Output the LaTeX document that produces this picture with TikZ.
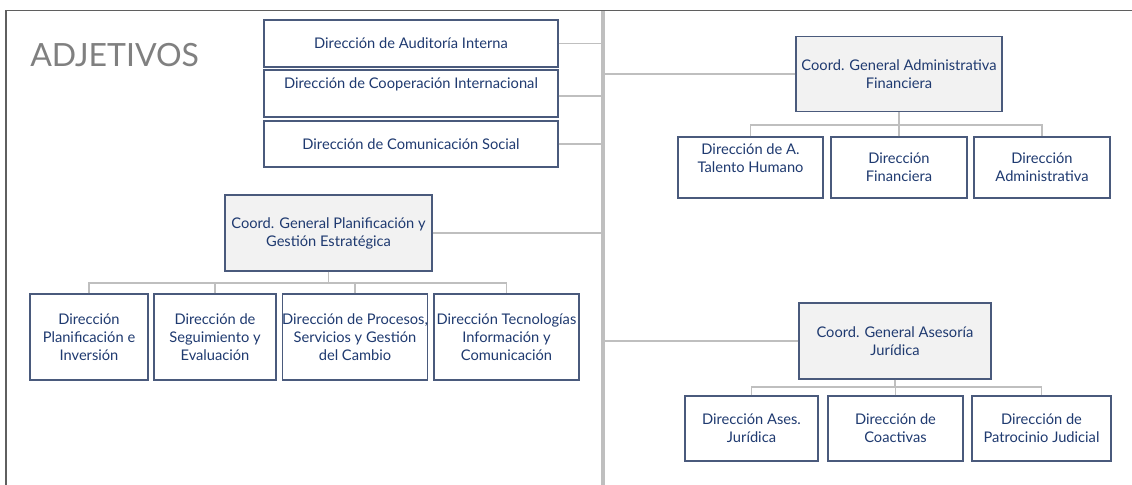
\documentclass[tikz,border=0pt]{standalone}
\usepackage{fontspec}
\setmainfont{Lato}
\usetikzlibrary{calc}
\definecolor{boxline}{HTML}{4A5A7C}
\definecolor{boxtext}{HTML}{1F3A70}
\definecolor{connline}{HTML}{BFBFBF}
\definecolor{coordfill}{HTML}{F2F2F2}
\definecolor{titlegray}{HTML}{808080}
\definecolor{framegray}{HTML}{5F5F5F}
\begin{document}
\begin{tikzpicture}[x=0.75pt,y=-0.75pt,
  unitbox/.style={draw=boxline, line width=1pt, fill=white, inner sep=0pt, align=center,
    text=boxtext, font=\fontsize{11}{13.5}\selectfont},
  coordbox/.style={unitbox, fill=coordfill},
  conn/.style={draw=connline, line width=1.2pt},
  divider/.style={draw=connline, line width=3pt}]
\useasboundingbox (0,0) rectangle (1132,485);
\fill[white] (0,0) rectangle (1132,485);
% frame
\coordinate (frameTL) at (6,10.5);
\coordinate (frameTR) at (1132,10.5);
\coordinate (frameBL) at (6,485);
\draw[framegray, line width=1.1pt] (frameBL) -- (frameTL) -- (frameTR);
% divider
\coordinate (divtop) at (603,11.5);
\coordinate (divbot) at (603,485);
\draw[divider] (divtop) -- (divbot);
% title
\node[anchor=west, text=titlegray, font=\fontsize{24}{28}\selectfont, inner sep=0pt] (title) at (30,55) {ADJETIVOS};
% top group
\node[unitbox, minimum width=220.5pt, minimum height=35.25pt] (A1) at (411,43.5) {Dirección de Auditoría Interna};
\node[unitbox, minimum width=220.5pt, minimum height=35.25pt] (A2) at (411,93.5) {Dirección de Cooperación Internacional\\[1.5pt]\mbox{}};
\node[unitbox, minimum width=220.5pt, minimum height=34.5pt] (A3) at (411,144) {Dirección de Comunicación Social};
\draw[conn] (A1.east) -- (A1.east -| divtop);
\draw[conn] ($(A2.east)+(0,2.5)$) -- ($(A2.east -| divtop)+(0,2.5)$);
\draw[conn] (A3.east) -- (A3.east -| divtop);
% planificacion
\node[coordbox, minimum width=155.25pt, minimum height=57pt] (PG) at (328.5,233) {Coord. General Planificación y\\Gestión Estratégica};
\node[unitbox, minimum width=88.5pt, minimum height=64.5pt] (P1) at (89,337) {Dirección\\Planificación e\\Inversión};
\node[unitbox, minimum width=91.5pt, minimum height=64.5pt] (P2) at (215,337) {Dirección de\\Seguimiento y\\Evaluación};
\node[unitbox, minimum width=108pt, minimum height=64.5pt] (P3) at (355,337) {Dirección de Procesos,\\Servicios y Gestión\\del Cambio};
\node[unitbox, minimum width=108.75pt, minimum height=64.5pt] (P4) at (506.5,337) {Dirección Tecnologías\\Información y\\Comunicación};
\coordinate (busP) at (0,283);
\draw[conn] (PG.east) -- (PG.east -| divtop);
\draw[conn] (PG.south) -- (PG.south |- busP);
\draw[conn] (P1.north) -- (P1.north |- busP) -- (P4.north |- busP) -- (P4.north);
\draw[conn] (P2.north) -- (P2.north |- busP);
\draw[conn] (P3.north) -- (P3.north |- busP);
% administrativa financiera
\node[coordbox, minimum width=154.5pt, minimum height=56.25pt] (AF) at (899,74) {Coord. General Administrativa\\Financiera};
\node[unitbox, minimum width=108.75pt, minimum height=45.75pt] (F1) at (750.5,167.5) {Dirección de A.\\Talento Humano\\\mbox{}};
\node[unitbox, minimum width=102pt, minimum height=45.75pt] (F2) at (899,167.5) {Dirección\\Financiera};
\node[unitbox, minimum width=102pt, minimum height=45.75pt] (F3) at (1042,167.5) {Dirección\\Administrativa};
\coordinate (busF) at (0,125);
\draw[conn] (AF.west) -- (AF.west -| divtop);
\draw[conn] (AF.south) -- (AF.south |- busF);
\draw[conn] (F1.north) -- (F1.north |- busF) -- (F3.north |- busF) -- (F3.north);
\draw[conn] (F2.north) -- (F2.north |- busF);
% asesoria juridica
\node[coordbox, minimum width=144pt, minimum height=57pt] (AJ) at (895,341) {Coord. General Asesoría\\Jurídica};
\node[unitbox, minimum width=99.75pt, minimum height=48.75pt] (J1) at (751.5,428.5) {Dirección Ases.\\Jurídica};
\node[unitbox, minimum width=101.25pt, minimum height=48.75pt] (J2) at (895.5,428.5) {Dirección de\\Coactivas};
\node[unitbox, minimum width=104.25pt, minimum height=48.75pt] (J3) at (1041.5,428.5) {Dirección de\\Patrocinio Judicial};
\coordinate (busJ) at (0,387);
\draw[conn] (AJ.west) -- (AJ.west -| divtop);
\draw[conn] (AJ.south) -- (AJ.south |- busJ);
\draw[conn] (J1.north) -- (J1.north |- busJ) -- (J3.north |- busJ) -- (J3.north);
\draw[conn] (J2.north) -- (J2.north |- busJ);
\end{tikzpicture}
\end{document}
